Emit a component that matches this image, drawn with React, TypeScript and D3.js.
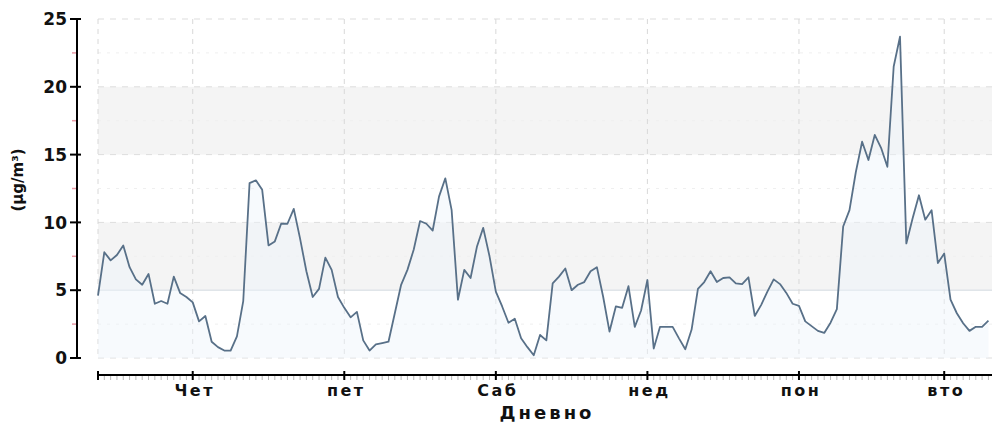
import React, { useEffect, useRef } from 'react';
import * as d3 from 'd3';

// hourly PM values (µg/m³), first point = Wed 09:00
const hourlyValues: number[] = [
  4.6, 7.8, 7.2, 7.6, 8.3, 6.7, 5.8, 5.4, 6.2, 4.0,
  4.2, 4.0, 6.0, 4.8, 4.5, 4.1, 2.7, 3.1, 1.2, 0.8,
  0.55, 0.55, 1.6, 4.2, 12.9, 13.1, 12.4, 8.3, 8.6, 9.9,
  9.9, 11.0, 8.8, 6.4, 4.5, 5.1, 7.4, 6.5, 4.5, 3.7,
  3.0, 3.4, 1.3, 0.55, 1.0, 1.1, 1.2, 3.3, 5.4, 6.5,
  8.0, 10.1, 9.9, 9.4, 11.9, 13.25, 10.9, 4.3, 6.5, 5.9,
  8.2, 9.6, 7.5, 4.9, 3.8, 2.6, 2.9, 1.45, 0.8, 0.2,
  1.7, 1.3, 5.5, 6.0, 6.6, 5.0, 5.4, 5.6, 6.4, 6.7,
  4.5, 1.95, 3.8, 3.7, 5.3, 2.3, 3.5, 5.75, 0.7, 2.3,
  2.3, 2.3, 1.45, 0.65, 2.1, 5.1, 5.6, 6.4, 5.6, 5.9,
  5.95, 5.5, 5.45, 5.95, 3.1, 3.9, 4.9, 5.8, 5.45, 4.8,
  4.0, 3.85, 2.7, 2.35, 2.0, 1.85, 2.6, 3.6, 9.7, 10.9,
  13.7, 15.95, 14.6, 16.45, 15.5, 14.1, 21.5, 23.7, 8.45, 10.3,
  12.0, 10.2, 10.9, 7.0, 7.7, 4.3, 3.3, 2.56, 2.0, 2.3,
  2.3, 2.75,
];

const dayLabels: string[] = ['Чет', 'пет', 'Саб', 'нед', 'пон', 'вто'];
const dayTickHours: number[] = [15, 39, 63, 87, 111, 134];
const yTickValues: number[] = [0, 5, 10, 15, 20, 25];
const yMinorValues: number[] = [2.5, 7.5, 12.5, 17.5, 22.5];
const yBands: [number, number][] = [[5, 10], [15, 20]];

const W = 992;
const H = 426;
const FONT = '"DejaVu Sans", Verdana, sans-serif';

const App: React.FC = () => {
  const svgRef = useRef<SVGSVGElement>(null);

  useEffect(() => {
    if (!svgRef.current) return;
    const svg = d3.select(svgRef.current);
    svg.selectAll('*').remove();

    const left = 98;
    const hourPx = 6.315;
    const totalHours = 142;
    const x = d3.scaleLinear().domain([0, totalHours]).range([left, left + totalHours * hourPx]);
    const y = d3.scaleLinear().domain([0, 25]).range([358, 19]);
    const right = W;

    // background bands
    svg.append('g')
      .selectAll('rect')
      .data(yBands)
      .enter().append('rect')
      .attr('x', left)
      .attr('width', right - left)
      .attr('y', d => y(d[1]))
      .attr('height', d => y(d[0]) - y(d[1]))
      .attr('fill', '#f4f4f4');

    // horizontal grid
    svg.append('g')
      .selectAll('line')
      .data(yTickValues)
      .enter().append('line')
      .attr('x1', left).attr('x2', right)
      .attr('y1', d => y(d)).attr('y2', d => y(d))
      .attr('stroke', d => d === 5 ? '#d3d9e0' : '#dddddd')
      .attr('stroke-width', 1)
      .attr('stroke-dasharray', d => d === 5 ? null : '6,6');

    svg.append('g')
      .selectAll('line')
      .data(yMinorValues)
      .enter().append('line')
      .attr('x1', left).attr('x2', right)
      .attr('y1', d => y(d)).attr('y2', d => y(d))
      .attr('stroke', '#efefef')
      .attr('stroke-dasharray', '3,6');

    // vertical grid at start and day boundaries
    svg.append('g')
      .selectAll('line')
      .data([0, ...dayTickHours])
      .enter().append('line')
      .attr('x1', d => x(d)).attr('x2', d => x(d))
      .attr('y1', y(25)).attr('y2', y(0))
      .attr('stroke', '#d8d8d8')
      .attr('stroke-dasharray', '5,5');

    // area + line
    const pts = hourlyValues.map((v, i) => [i, v] as [number, number]);
    svg.append('path')
      .datum(pts)
      .attr('d', d3.area<[number, number]>().x(d => x(d[0])).y0(y(0)).y1(d => y(d[1])))
      .attr('fill', '#eef4fa')
      .attr('opacity', 0.45);

    svg.append('path')
      .datum(pts)
      .attr('d', d3.line<[number, number]>().x(d => x(d[0])).y(d => y(d[1])))
      .attr('fill', 'none')
      .attr('stroke', '#587088')
      .attr('stroke-width', 1.8)
      .attr('stroke-linejoin', 'round');

    // y axis
    const yAxisX = 77;
    svg.append('line')
      .attr('x1', yAxisX).attr('x2', yAxisX)
      .attr('y1', y(25)).attr('y2', y(0))
      .attr('stroke', '#000').attr('stroke-width', 2);

    svg.append('g')
      .selectAll('line')
      .data(yTickValues)
      .enter().append('line')
      .attr('x1', yAxisX - 7).attr('x2', yAxisX + 4)
      .attr('y1', d => y(d)).attr('y2', d => y(d))
      .attr('stroke', '#000').attr('stroke-width', 2);

    svg.append('g')
      .selectAll('line')
      .data(yMinorValues)
      .enter().append('line')
      .attr('x1', yAxisX - 5).attr('x2', yAxisX - 1)
      .attr('y1', d => y(d)).attr('y2', d => y(d))
      .attr('stroke', '#e89aa6').attr('stroke-width', 1.5);

    svg.append('g')
      .selectAll('text')
      .data(yTickValues)
      .enter().append('text')
      .attr('x', yAxisX - 10)
      .attr('y', d => y(d))
      .attr('dy', '0.36em')
      .attr('text-anchor', 'end')
      .attr('font-family', FONT)
      .attr('font-weight', 'bold')
      .attr('font-size', 17)
      .attr('fill', '#111')
      .text(d => String(d));

    svg.append('text')
      .attr('transform', `translate(23,180) rotate(-90)`)
      .attr('text-anchor', 'middle')
      .attr('font-family', FONT)
      .attr('font-weight', 'bold')
      .attr('font-size', 15)
      .attr('fill', '#111')
      .text('(µg/m³)');

    // x axis
    const axisY = 375;
    svg.append('line')
      .attr('x1', x(0)).attr('x2', right)
      .attr('y1', axisY).attr('y2', axisY)
      .attr('stroke', '#000').attr('stroke-width', 2);

    svg.append('g')
      .selectAll('line')
      .data(d3.range(0, totalHours + 1))
      .enter().append('line')
      .attr('x1', d => x(d)).attr('x2', d => x(d))
      .attr('y1', axisY + 1).attr('y2', axisY + 5)
      .attr('stroke', '#b8b8b8').attr('stroke-width', 1);

    svg.append('g')
      .selectAll('line')
      .data([0, ...dayTickHours])
      .enter().append('line')
      .attr('x1', d => x(d)).attr('x2', d => x(d))
      .attr('y1', axisY - 4).attr('y2', axisY + 5)
      .attr('stroke', '#000').attr('stroke-width', 2);

    svg.append('g')
      .selectAll('text')
      .data(dayTickHours)
      .enter().append('text')
      .attr('x', d => x(d) + 2)
      .attr('y', 396)
      .attr('text-anchor', 'middle')
      .attr('font-family', FONT)
      .attr('font-weight', 'bold')
      .attr('font-size', 16)
      .attr('letter-spacing', 2.5)
      .attr('fill', '#111')
      .text((_, i) => dayLabels[i]);

    svg.append('text')
      .attr('x', 547)
      .attr('y', 419)
      .attr('text-anchor', 'middle')
      .attr('font-family', FONT)
      .attr('font-weight', 'bold')
      .attr('font-size', 18)
      .attr('letter-spacing', 3)
      .attr('fill', '#111')
      .text('Дневно');
  }, []);

  return (
    <svg
      ref={svgRef}
      width={W}
      height={H}
      style={{ position: 'absolute', left: 0, top: 0, background: '#fff', display: 'block' }}
    />
  );
};

export default App;
